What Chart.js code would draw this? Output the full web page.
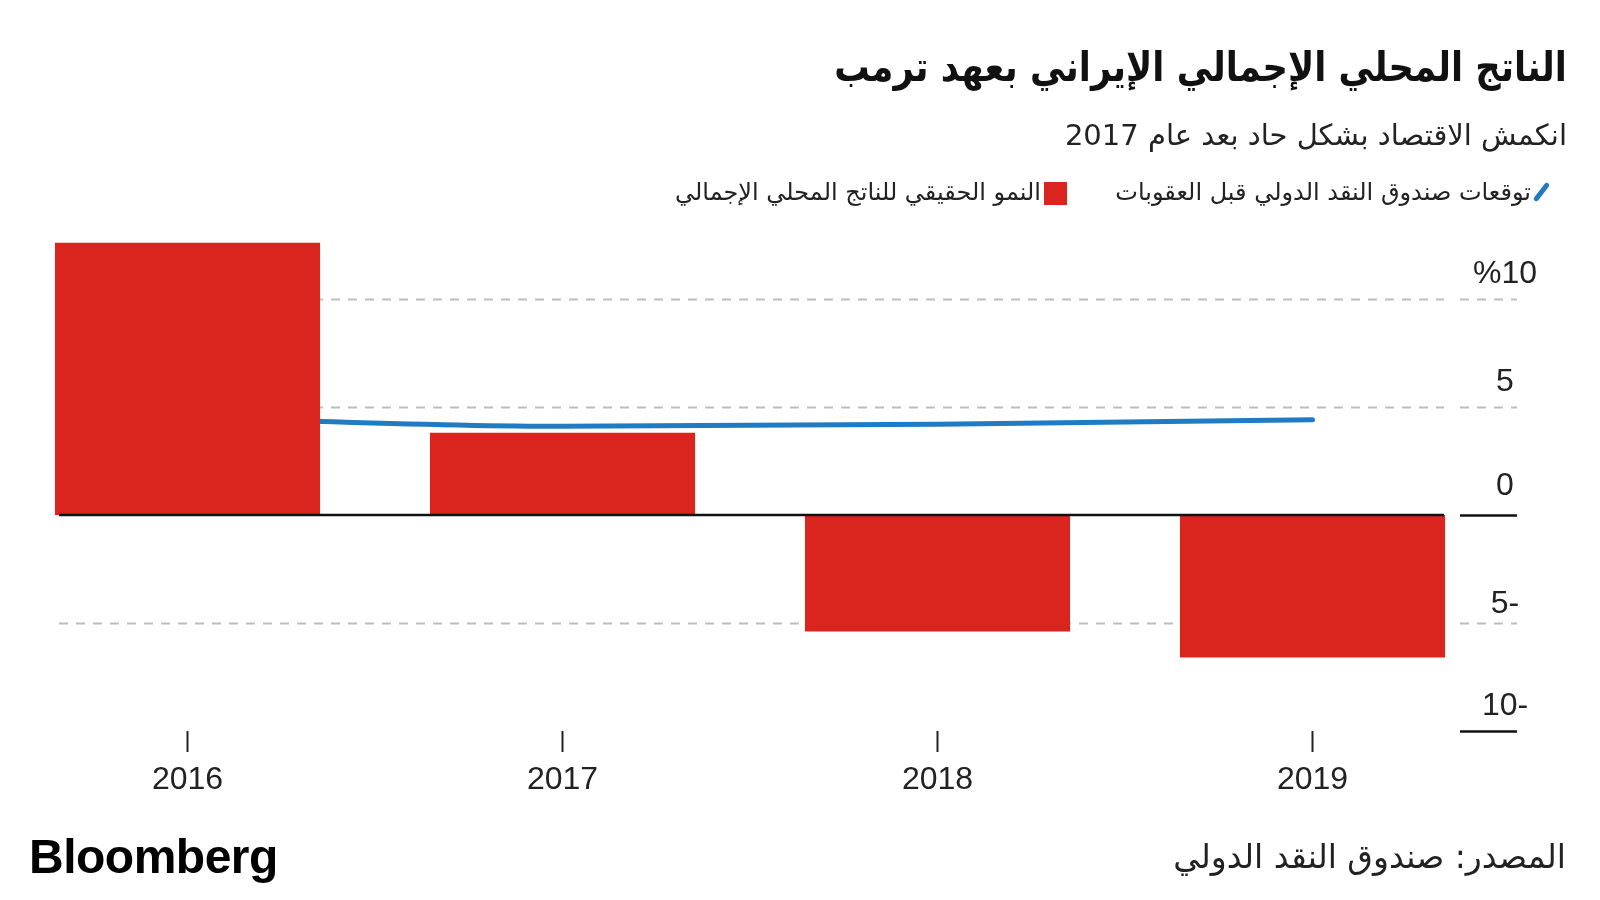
<!DOCTYPE html>
<html lang="ar">
<head>
<meta charset="utf-8">
<script src="https://cdn.jsdelivr.net/npm/chart.js@4.4.0/dist/chart.umd.min.js"></script>
<style>
  html, body { margin: 0; padding: 0; background: #fff; }
  #wrap { position: relative; width: 1600px; height: 900px; overflow: hidden; }
  canvas { position: absolute; left: 0; top: 0; }
  .ar { position: absolute; direction: rtl; font-family: "DejaVu Sans", sans-serif; color: #111; white-space: nowrap; line-height: 1; }
  #title { right: 33px; top: 47px; font-size: 41px; font-weight: bold; transform: scaleX(0.86); transform-origin: right center; }
  #subtitle { right: 33px; top: 121px; font-size: 29px; color: #222; }
  .leg { top: 180px; font-size: 24px; color: #222; }
  #leg1 { right: 69px; }
  #leg2 { right: 559px; }
  #icon1 { position: absolute; left: 1539px; top: 181px; width: 5px; height: 22px; border-radius: 3px; background: #1f7bc4; transform: rotate(38deg); }
  #sq2 { position: absolute; left: 1044px; top: 182px; width: 23px; height: 23px; background: #da251e; }
  #source { right: 34px; top: 840px; font-size: 33px; color: #222; }
  #logo { position: absolute; left: 29px; top: 829px; font-family: "Liberation Sans", Arial, sans-serif; font-weight: bold; font-size: 48px; color: #000; letter-spacing: -0.5px; }
</style>
</head>
<body>
<div id="wrap">
  <canvas id="chart" width="1600" height="900"></canvas>
  <div id="title" class="ar">الناتج المحلي الإجمالي الإيراني بعهد ترمب</div>
  <div id="subtitle" class="ar">انكمش الاقتصاد بشكل حاد بعد عام 2017</div>
  <span id="icon1"></span>
  <div id="leg1" class="ar leg">توقعات صندوق النقد الدولي قبل العقوبات</div>
  <span id="sq2"></span>
  <div id="leg2" class="ar leg">النمو الحقيقي للناتج المحلي الإجمالي</div>
  <div id="source" class="ar">المصدر: صندوق النقد الدولي</div>
  <div id="logo">Bloomberg</div>
</div>
<script>
const years = ['2016', '2017', '2018', '2019'];
const realGrowth = [12.6, 3.8, -5.4, -6.6];
const imfForecast = [4.5, 4.1, 4.2, 4.4];
const yTicks = [10, 5, 0, -5, -10];
const yTickLabels = ['%10', '5', '0', '5-', '10-'];

const GRID_LEFT = 59;
const GRID_RIGHT = 1444;
const TICK_LEFT = 1460;
const TICK_RIGHT = 1517;
const LABEL_X = 1505;
const LABEL_RAISE = { '10': 16, '5': 16, '0': 20, '-5': 10, '-10': 16 };

// dashed guides behind the bars, zero line above them, labels on the right
const yGuides = {
  id: 'yGuides',
  beforeDatasetsDraw(chart) {
    const ctx = chart.ctx;
    const y = chart.scales.y;
    ctx.save();
    ctx.lineWidth = 2;
    ctx.strokeStyle = '#bdbdbd';
    ctx.setLineDash([9, 8]);
    yTicks.forEach(v => {
      if (v === 0 || v === -10) return;
      const py = Math.round(y.getPixelForValue(v)) + 0.5;
      ctx.beginPath();
      ctx.moveTo(GRID_LEFT, py);
      ctx.lineTo(GRID_RIGHT, py);
      ctx.stroke();
    });
    ctx.restore();
  },
  afterDatasetsDraw(chart) {
    const ctx = chart.ctx;
    const y = chart.scales.y;
    const py = Math.round(y.getPixelForValue(0));
    ctx.save();
    ctx.lineWidth = 2.5;
    ctx.strokeStyle = '#111';
    ctx.beginPath();
    ctx.moveTo(GRID_LEFT, py);
    ctx.lineTo(GRID_RIGHT, py);
    ctx.stroke();
    ctx.restore();
  },
  afterDraw(chart) {
    const ctx = chart.ctx;
    const y = chart.scales.y;
    ctx.save();
    yTicks.forEach((v, i) => {
      const py = Math.round(y.getPixelForValue(v));
      ctx.beginPath();
      if (v === 0 || v === -10) {
        ctx.setLineDash([]);
        ctx.lineWidth = 2.5;
        ctx.strokeStyle = '#111';
      } else {
        ctx.setLineDash([9, 8]);
        ctx.lineWidth = 2;
        ctx.strokeStyle = '#bdbdbd';
      }
      ctx.moveTo(TICK_LEFT, py + 0.5);
      ctx.lineTo(TICK_RIGHT, py + 0.5);
      ctx.stroke();
      ctx.fillStyle = '#222';
      ctx.font = '32px "Liberation Sans", Arial, sans-serif';
      ctx.textAlign = 'center';
      ctx.textBaseline = 'alphabetic';
      ctx.fillText(yTickLabels[i], LABEL_X, py - LABEL_RAISE[String(v)]);
    });
    ctx.restore();
  }
};

new Chart(document.getElementById('chart').getContext('2d'), {
  type: 'bar',
  data: {
    labels: years,
    datasets: [
      {
        type: 'bar',
        label: 'النمو الحقيقي للناتج المحلي الإجمالي',
        data: realGrowth,
        backgroundColor: '#da251e',
        borderWidth: 0,
        categoryPercentage: 1,
        barPercentage: 0.707,
        order: 1
      },
      {
        type: 'line',
        label: 'توقعات صندوق النقد الدولي قبل العقوبات',
        data: imfForecast,
        borderColor: '#1f7bc4',
        borderWidth: 5,
        borderCapStyle: 'round',
        cubicInterpolationMode: 'monotone',
        pointRadius: 0,
        fill: false,
        order: 2
      }
    ]
  },
  options: {
    responsive: false,
    animation: false,
    layout: { padding: { left: 0, right: 100, top: 234, bottom: 100 } },
    plugins: {
      legend: { display: false },
      tooltip: { enabled: false }
    },
    scales: {
      x: {
        border: { display: false },
        grid: { drawOnChartArea: false, offset: false, tickLength: 21, tickColor: '#222', tickWidth: 2 },
        ticks: { font: { family: '"Liberation Sans", Arial, sans-serif', size: 32 }, color: '#222', padding: 9 },
        afterFit: s => { s.height = 69; }
      },
      y: {
        display: false,
        min: -10,
        max: 13
      }
    }
  },
  plugins: [yGuides]
});
</script>
</body>
</html>
